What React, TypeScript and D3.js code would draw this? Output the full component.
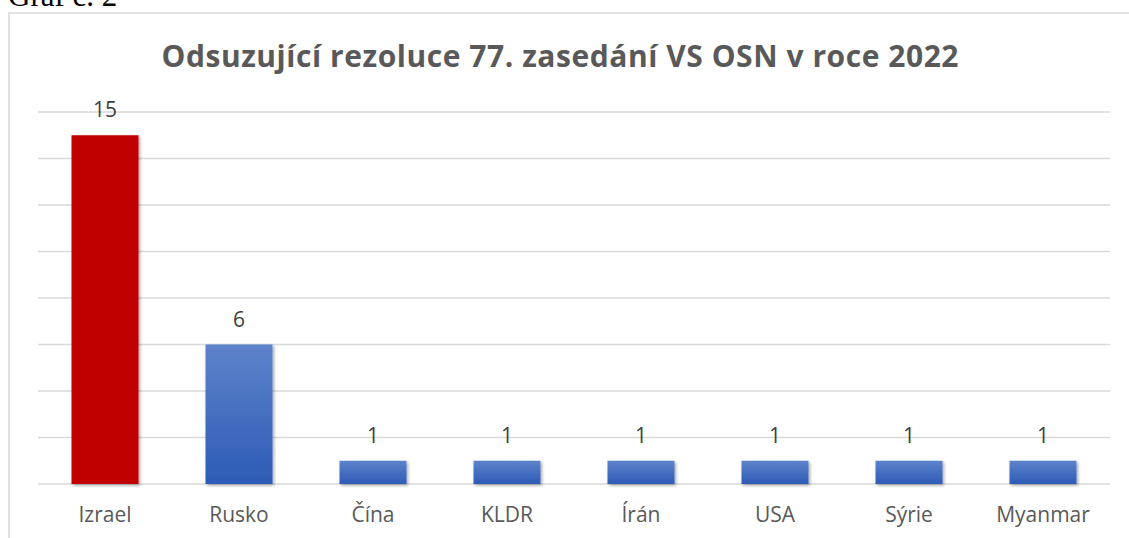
import React, { useEffect, useRef } from "react";
import * as d3 from "d3";

const categories = ["Izrael", "Rusko", "Čína", "KLDR", "Írán", "USA", "Sýrie", "Myanmar"];
const values = [15, 6, 1, 1, 1, 1, 1, 1];
const yTicks = [0, 2, 4, 6, 8, 10, 12, 14, 16];
const title = "Odsuzující rezoluce 77. zasedání VS OSN v roce 2022";
const caption = "Graf č. 2";

const App = () => {
  const svgRef = useRef<SVGSVGElement>(null);

  useEffect(() => {
    const svg = d3.select(svgRef.current);
    svg.selectAll("*").remove(); // fresh render

    const width = 1129;
    const height = 538;
    const plot = { left: 38, right: 1110, top: 112, bottom: 484 };
    const font = "'Open Sans', 'Noto Sans', sans-serif";

    const x = d3
      .scaleBand()
      .domain(categories)
      .range([plot.left, plot.right])
      .paddingInner(0.5)
      .paddingOuter(0.25);

    const y = d3.scaleLinear().domain([0, 16]).range([plot.bottom, plot.top]);

    const defs = svg.append("defs");
    const grad = defs
      .append("linearGradient")
      .attr("id", "blueGrad")
      .attr("x1", 0)
      .attr("y1", 0)
      .attr("x2", 0)
      .attr("y2", 1);
    grad.append("stop").attr("offset", "0%").attr("stop-color", "#5E83CB");
    grad.append("stop").attr("offset", "100%").attr("stop-color", "#2D5BB6");

    const shadow = defs.append("filter").attr("id", "shadow").attr("x", "-20%").attr("y", "-20%").attr("width", "140%").attr("height", "140%");
    shadow
      .append("feDropShadow")
      .attr("dx", 1.5)
      .attr("dy", 1.5)
      .attr("stdDeviation", 1.6)
      .attr("flood-color", "#000")
      .attr("flood-opacity", 0.35);

    // caption above the chart (cut off at the top, as in the source page)
    svg
      .append("text")
      .attr("x", 8)
      .attr("y", 6)
      .attr("font-family", "'Liberation Serif', 'DejaVu Serif', serif")
      .attr("font-size", 31)
      .attr("fill", "#000")
      .text(caption);

    // chart border
    svg
      .append("rect")
      .attr("x", 9)
      .attr("y", 13)
      .attr("width", width + 20)
      .attr("height", height)
      .attr("fill", "#fff")
      .attr("stroke", "#D9D9D9")
      .attr("stroke-width", 1.5);

    // title
    svg
      .append("text")
      .attr("x", 560)
      .attr("y", 67)
      .attr("text-anchor", "middle")
      .attr("font-family", font)
      .attr("font-weight", "bold")
      .attr("font-size", 30)
      .attr("textLength", 797)
      .attr("lengthAdjust", "spacing")
      .attr("fill", "#595959")
      .text(title);

    // gridlines
    svg
      .append("g")
      .selectAll("line")
      .data(yTicks)
      .join("line")
      .attr("x1", plot.left)
      .attr("x2", plot.right)
      .attr("y1", (d) => y(d))
      .attr("y2", (d) => y(d))
      .attr("stroke", "#D9D9D9")
      .attr("stroke-width", 1.5);

    // bars
    svg
      .append("g")
      .selectAll("rect")
      .data(values)
      .join("rect")
      .attr("x", (d, i) => x(categories[i])!)
      .attr("y", (d) => y(d))
      .attr("width", x.bandwidth())
      .attr("height", (d) => y(0) - y(d))
      .attr("fill", (d, i) => (i === 0 ? "#C00000" : "url(#blueGrad)"))
      .attr("filter", "url(#shadow)");

    // value labels
    svg
      .append("g")
      .selectAll("text")
      .data(values)
      .join("text")
      .attr("x", (d, i) => x(categories[i])! + x.bandwidth() / 2)
      .attr("y", (d) => y(d) - 18)
      .attr("text-anchor", "middle")
      .attr("font-family", font)
      .attr("font-size", 21)
      .attr("fill", "#404040")
      .text((d) => d);

    // category labels
    svg
      .append("g")
      .selectAll("text")
      .data(categories)
      .join("text")
      .attr("x", (d) => x(d)! + x.bandwidth() / 2)
      .attr("y", 522)
      .attr("text-anchor", "middle")
      .attr("font-family", font)
      .attr("font-size", 21)
      .attr("fill", "#595959")
      .text((d) => d);
  }, []);

  return (
    <svg
      ref={svgRef}
      width={1129}
      height={538}
      style={{ position: "absolute", left: 0, top: 0, background: "#fff" }}
    ></svg>
  );
};

export default App;
